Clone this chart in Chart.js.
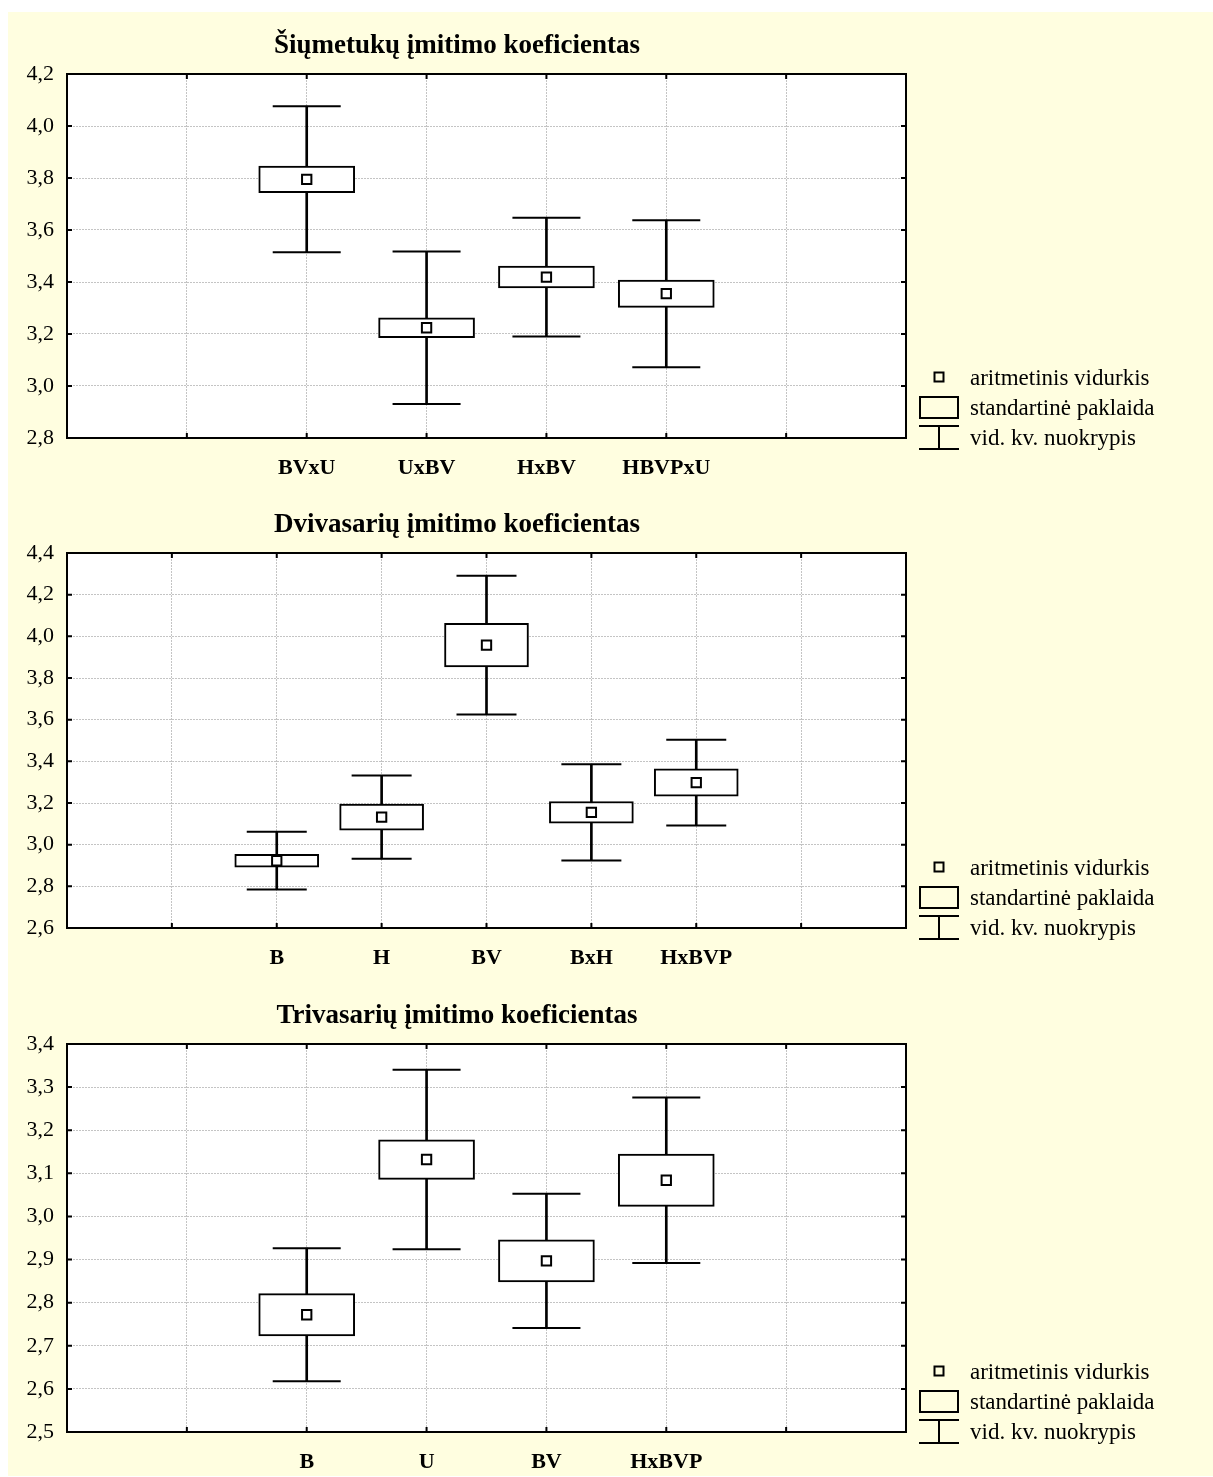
<!DOCTYPE html>
<html>
<head>
<meta charset="utf-8">
<script src="https://cdn.jsdelivr.net/npm/chart.js@4.4.1/dist/chart.umd.min.js"></script>
<style>
  html, body { margin: 0; padding: 0; background: #ffffff; }
  #page { position: relative; width: 1213px; height: 1477px; overflow: hidden; }
  #panel { position: absolute; left: 8px; top: 12px; width: 1205px; height: 1464px; background: #fffee0; }
  canvas { position: absolute; left: 0; }
</style>
</head>
<body>
<div id="page">
  <div id="panel"></div>
  <canvas id="c1" width="1213" height="490" style="top:0px"></canvas>
  <canvas id="c2" width="1213" height="500" style="top:490px"></canvas>
  <canvas id="c3" width="1213" height="487" style="top:990px"></canvas>
</div>
<script>
// ---- Šiųmetukai ----
const siuTitle = 'Šiųmetukų įmitimo koeficientas';
const siuCats  = ['BVxU', 'UxBV', 'HxBV', 'HBVPxU'];
const siuMean  = [3.795, 3.224, 3.419, 3.355];
const siuSE    = [0.051, 0.038, 0.042, 0.0525];
const siuSD    = [0.281, 0.293, 0.2285, 0.2825];
const siuAxis  = [2.8, 4.2, 0.2];   // min, max, step

// ---- Dvivasariai ----
const dviTitle = 'Dvivasarių įmitimo koeficientas';
const dviCats  = ['B', 'H', 'BV', 'BxH', 'HxBVP'];
const dviMean  = [2.923, 3.132, 3.958, 3.155, 3.298];
const dviSE    = [0.031, 0.0625, 0.1045, 0.052, 0.0655];
const dviSD    = [0.1385, 0.200, 0.333, 0.2305, 0.206];
const dviAxis  = [2.6, 4.4, 0.2];

// ---- Trivasariai ----
const triTitle = 'Trivasarių įmitimo koeficientas';
const triCats  = ['B', 'U', 'BV', 'HxBVP'];
const triMean  = [2.772, 3.132, 2.897, 3.084];
const triSE    = [0.049, 0.046, 0.049, 0.0605];
const triSD    = [0.1545, 0.208, 0.1555, 0.192];
const triAxis  = [2.5, 3.4, 0.1];

const legendLabels = ['aritmetinis vidurkis', 'standartinė paklaida', 'vid. kv. nuokrypis'];

const SERIF = '"Liberation Serif", "Times New Roman", serif';
Chart.defaults.font.family = SERIF;
Chart.defaults.color = '#000';

// empty slots on both sides of the category row
const LEAD = 2, TRAIL = 2;
function padded(values) {
  const out = new Array(LEAD + values.length + TRAIL).fill(null);
  values.forEach((v, i) => { out[LEAD + i] = v; });
  return out;
}
function slotLabels(cats) {
  return [...Array(LEAD).fill(''), ...cats, ...Array(TRAIL).fill('')];
}

// white plotting area on the tinted panel
const plotBackground = {
  id: 'plotBackground',
  beforeDraw(chart) {
    const { ctx, chartArea: a } = chart;
    ctx.save();
    ctx.fillStyle = '#ffffff';
    ctx.fillRect(a.left, a.top, a.right - a.left, a.bottom - a.top);
    ctx.restore();
  }
};

// frame with inward tick marks on all four sides
const frameTicks = {
  id: 'frameTicks',
  afterDraw(chart) {
    const { ctx, chartArea: a, scales } = chart;
    const len = 5;
    ctx.save();
    ctx.strokeStyle = '#000';
    ctx.lineWidth = 2;
    ctx.beginPath();
    scales.y.ticks.forEach((t, i) => {
      const py = scales.y.getPixelForTick(i);
      ctx.moveTo(a.left, py); ctx.lineTo(a.left + len, py);
      ctx.moveTo(a.right - len, py); ctx.lineTo(a.right, py);
    });
    scales.x.ticks.forEach((t, i) => {
      const px = scales.x.getPixelForTick(i);
      ctx.moveTo(px, a.bottom); ctx.lineTo(px, a.bottom - len);
      ctx.moveTo(px, a.top); ctx.lineTo(px, a.top + len);
    });
    ctx.stroke();
    ctx.strokeRect(a.left, a.top, a.right - a.left, a.bottom - a.top);
    ctx.restore();
  }
};

// heading above the plot and the key beside its lower right corner
const headingAndKey = {
  id: 'headingAndKey',
  afterDraw(chart, args, opts) {
    const { ctx, chartArea: a } = chart;
    ctx.save();
    ctx.fillStyle = '#000';
    ctx.textAlign = 'center';
    ctx.textBaseline = 'alphabetic';
    ctx.font = 'bold 27px ' + SERIF;
    ctx.fillText(opts.text, 457, a.top - 21);

    const b = a.bottom;
    const x0 = 919, x1 = 959, xc = 939;
    ctx.strokeStyle = '#000';
    ctx.lineWidth = 2;
    // mean marker
    ctx.strokeRect(xc - 4.5, b - 65.5, 9, 9);
    // standard error box
    ctx.strokeRect(x0 + 1, b - 41, x1 - x0 - 2, 21);
    // standard deviation whisker
    ctx.beginPath();
    ctx.moveTo(x0, b - 12); ctx.lineTo(x1, b - 12);
    ctx.moveTo(xc, b - 12); ctx.lineTo(xc, b + 11);
    ctx.moveTo(x0, b + 11); ctx.lineTo(x1, b + 11);
    ctx.stroke();

    ctx.textAlign = 'left';
    ctx.textBaseline = 'middle';
    ctx.font = '23px ' + SERIF;
    const ys = [b - 59, b - 29.5, b + 0.5];
    legendLabels.forEach((s, i) => ctx.fillText(s, 970, ys[i]));
    ctx.restore();
  }
};

function makeChart(id, cfg) {
  const { title, cats, mean, se, sd, axis, boxWidth, capHalf, top, bottomPad } = cfg;
  const seRange = mean.map((m, i) => [m - se[i], m + se[i]]);
  const sdRange = mean.map((m, i) => [m - sd[i], m + sd[i]]);
  const sdHigh  = mean.map((m, i) => m + sd[i]);
  const sdLow   = mean.map((m, i) => m - sd[i]);
  const grid = { color: '#c4c4c4', lineWidth: 1, drawTicks: false, offset: false };
  const border = { display: false, dash: [2, 1] };

  return new Chart(document.getElementById(id), {
    type: 'bar',
    data: {
      labels: slotLabels(cats),
      datasets: [
        {
          type: 'line', label: legendLabels[0], data: padded(mean),
          showLine: false, pointStyle: 'rect', pointRadius: 6.6,
          pointBackgroundColor: '#ffffff', pointBorderColor: '#000', pointBorderWidth: 2,
          order: 0
        },
        {
          type: 'bar', label: legendLabels[1], data: padded(seRange),
          backgroundColor: '#ffffff', borderColor: '#000', borderWidth: 2,
          borderSkipped: false, barThickness: boxWidth, grouped: false,
          order: 1
        },
        {
          type: 'line', label: 'sd+', data: padded(sdHigh),
          showLine: false, pointStyle: 'line', pointRadius: capHalf,
          pointBorderColor: '#000', pointBorderWidth: 2, order: 2
        },
        {
          type: 'line', label: 'sd-', data: padded(sdLow),
          showLine: false, pointStyle: 'line', pointRadius: capHalf,
          pointBorderColor: '#000', pointBorderWidth: 2, order: 2
        },
        {
          type: 'bar', label: legendLabels[2], data: padded(sdRange),
          backgroundColor: '#000', borderWidth: 0,
          barThickness: 2, grouped: false, order: 3
        }
      ]
    },
    options: {
      responsive: false,
      animation: false,
      events: [],
      layout: { padding: { left: 8, right: 307, top: top, bottom: bottomPad } },
      scales: {
        x: {
          type: 'category',
          offset: false,
          grid: grid,
          border: border,
          afterFit: s => { s.height = 40; },
          ticks: {
            autoSkip: false, maxRotation: 0, minRotation: 0, padding: 17,
            color: '#000',
            font: { family: SERIF, size: 22, weight: 'bold' }
          }
        },
        y: {
          min: axis[0], max: axis[1],
          grid: grid,
          border: border,
          afterFit: s => { s.width = 59; },
          ticks: {
            stepSize: axis[2], padding: 13, color: '#000',
            font: { family: SERIF, size: 22 },
            callback: v => Number(v).toFixed(1).replace('.', ',')
          }
        }
      },
      plugins: {
        legend: { display: false },
        tooltip: { enabled: false },
        headingAndKey: { text: title }
      }
    },
    plugins: [plotBackground, frameTicks, headingAndKey]
  });
}

makeChart('c1', { title: siuTitle, cats: siuCats, mean: siuMean, se: siuSE, sd: siuSD,
  axis: siuAxis, boxWidth: 96, capHalf: 34, top: 74, bottomPad: 12 });
makeChart('c2', { title: dviTitle, cats: dviCats, mean: dviMean, se: dviSE, sd: dviSD,
  axis: dviAxis, boxWidth: 84, capHalf: 30, top: 63, bottomPad: 22 });
makeChart('c3', { title: triTitle, cats: triCats, mean: triMean, se: triSE, sd: triSD,
  axis: triAxis, boxWidth: 96, capHalf: 34, top: 54, bottomPad: 5 });
</script>
</body>
</html>
